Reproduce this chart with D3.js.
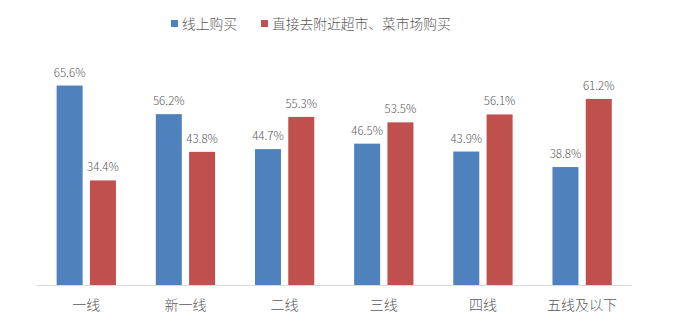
<!DOCTYPE html>
<html><head><meta charset="utf-8">
<script src="https://cdn.jsdelivr.net/npm/d3@7"></script>
<style>body{margin:0;background:#fff}svg{display:block}text{font-family:"Noto Sans CJK SC","Noto Sans",sans-serif}</style>
</head><body>
<svg id="c" width="677" height="334"></svg>
<script>
const categories = ["一线","新一线","二线","三线","四线","五线及以下"];
const seriesNames = ["线上购买","直接去附近超市、菜市场购买"];
const online = [65.6,56.2,44.7,46.5,43.9,38.8];
const offline = [34.4,43.8,55.3,53.5,56.1,61.2];
const colors = ["#4F81BD","#C0504D"];

const svg = d3.select("#c");
const x0 = 36.7, x1 = 631.7, baseY = 285, topY = 72.2;
const x = d3.scaleBand().domain(categories).range([x0,x1]).padding(0);
const y = d3.scaleLinear().domain([0,70]).range([baseY,topY]);
const bw = 26, gap = 7.3;

const series = [online, offline];
series.forEach((vals, si) => {
  const off = si === 0 ? -gap/2 - bw : gap/2;
  const g = svg.append("g");
  g.selectAll("rect").data(vals).enter().append("rect")
    .attr("x", (d,i) => x(categories[i]) + x.bandwidth()/2 + off)
    .attr("y", d => y(d))
    .attr("width", bw)
    .attr("height", d => baseY - y(d))
    .attr("fill", colors[si]);
  g.selectAll("text").data(vals).enter().append("text")
    .attr("x", (d,i) => x(categories[i]) + x.bandwidth()/2 + off + bw/2)
    .attr("y", d => y(d) - 9)
    .attr("text-anchor","middle")
    .attr("font-size", 11.5)
    .attr("font-weight", 300)
    .attr("fill","#595959")
    .text(d => d.toFixed(1) + "%");
});

svg.append("line").attr("x1",x0).attr("x2",x1).attr("y1",baseY+0.5).attr("y2",baseY+0.5)
  .attr("stroke","#D9D9D9").attr("stroke-width",1);

const xa = svg.append("g").attr("transform",`translate(0,${baseY})`)
  .call(d3.axisBottom(x).tickSize(0).tickPadding(15));
xa.select(".domain").remove();
xa.selectAll("text").attr("font-size",14).attr("fill","#595959").attr("font-weight",300)
  .style("font-family",'"Noto Sans CJK SC",sans-serif');

const legX = [171, 261];
seriesNames.forEach((n,i) => {
  svg.append("rect").attr("x",legX[i]).attr("y",20).attr("width",7).attr("height",7).attr("fill",colors[i]);
  svg.append("text").attr("x",legX[i]+11).attr("y",28.5).attr("font-size",13.75).attr("font-weight",300).attr("fill","#595959").text(n);
});
</script>
</body></html>
